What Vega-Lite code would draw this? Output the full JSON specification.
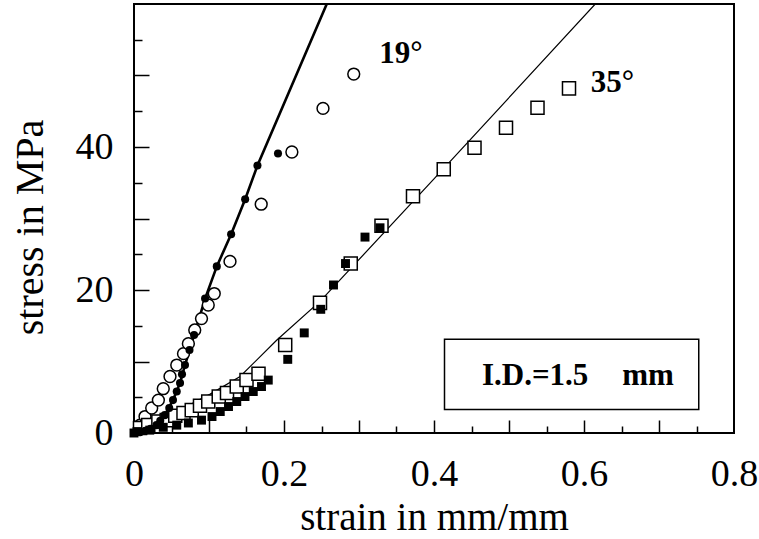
{
  "$schema": "https://vega.github.io/schema/vega-lite/v6.json",
  "width": 600,
  "height": 429,
  "autosize": {"type": "none"},
  "padding": {"left": 134, "top": 4, "right": 25, "bottom": 106},
  "background": "white",
  "config": {
    "view": {"stroke": "#000", "strokeWidth": 2},
    "font": "Liberation Serif",
    "axis": {
      "labelFont": "Liberation Serif",
      "titleFont": "Liberation Serif",
      "labelColor": "#000",
      "titleColor": "#000",
      "tickColor": "#000",
      "domain": false,
      "grid": false,
      "titleFontWeight": "normal",
      "labelFlush": false,
      "labelOverlap": false
    }
  },
  "datasets": {
    "points": [
      {"set": "f19", "strain": 0.0, "stress": 0.0},
      {"set": "f19", "strain": 0.008, "stress": 0.1},
      {"set": "f19", "strain": 0.015, "stress": 0.3},
      {"set": "f19", "strain": 0.022, "stress": 0.6},
      {"set": "f19", "strain": 0.030, "stress": 1.1},
      {"set": "f19", "strain": 0.035, "stress": 1.7},
      {"set": "f19", "strain": 0.041, "stress": 2.5},
      {"set": "f19", "strain": 0.047, "stress": 3.5},
      {"set": "f19", "strain": 0.052, "stress": 4.6},
      {"set": "f19", "strain": 0.057, "stress": 5.8},
      {"set": "f19", "strain": 0.0614, "stress": 7.0},
      {"set": "f19", "strain": 0.064, "stress": 8.2},
      {"set": "f19", "strain": 0.068, "stress": 9.5},
      {"set": "f19", "strain": 0.074, "stress": 11.6},
      {"set": "f19", "strain": 0.0801, "stress": 13.7},
      {"set": "f19", "strain": 0.0948, "stress": 18.8},
      {"set": "f19", "strain": 0.1104, "stress": 23.3},
      {"set": "f19", "strain": 0.1295, "stress": 27.8},
      {"set": "f19", "strain": 0.1482, "stress": 32.7},
      {"set": "f19", "strain": 0.1646, "stress": 37.4},
      {"set": "f19", "strain": 0.192, "stress": 39.1},
      {"set": "o19", "strain": 0.008, "stress": 1.1},
      {"set": "o19", "strain": 0.0147, "stress": 2.3},
      {"set": "o19", "strain": 0.0236, "stress": 3.5},
      {"set": "o19", "strain": 0.0325, "stress": 4.6},
      {"set": "o19", "strain": 0.039, "stress": 6.2},
      {"set": "o19", "strain": 0.048, "stress": 7.9},
      {"set": "o19", "strain": 0.057, "stress": 9.5},
      {"set": "o19", "strain": 0.066, "stress": 11.1},
      {"set": "o19", "strain": 0.0725, "stress": 12.5},
      {"set": "o19", "strain": 0.081, "stress": 14.4},
      {"set": "o19", "strain": 0.090, "stress": 16.0},
      {"set": "o19", "strain": 0.099, "stress": 17.9},
      {"set": "o19", "strain": 0.107, "stress": 19.5},
      {"set": "o19", "strain": 0.128, "stress": 24.0},
      {"set": "o19", "strain": 0.1696, "stress": 32.0},
      {"set": "o19", "strain": 0.2105, "stress": 39.3},
      {"set": "o19", "strain": 0.252, "stress": 45.4},
      {"set": "o19", "strain": 0.293, "stress": 50.2},
      {"set": "f35", "strain": 0.0, "stress": 0.0},
      {"set": "f35", "strain": 0.004, "stress": 0.2},
      {"set": "f35", "strain": 0.021, "stress": 0.4},
      {"set": "f35", "strain": 0.039, "stress": 0.8},
      {"set": "f35", "strain": 0.057, "stress": 1.1},
      {"set": "f35", "strain": 0.0725, "stress": 1.4},
      {"set": "f35", "strain": 0.090, "stress": 1.8},
      {"set": "f35", "strain": 0.104, "stress": 2.3},
      {"set": "f35", "strain": 0.115, "stress": 3.0},
      {"set": "f35", "strain": 0.126, "stress": 3.7},
      {"set": "f35", "strain": 0.137, "stress": 4.4},
      {"set": "f35", "strain": 0.148, "stress": 5.1},
      {"set": "f35", "strain": 0.159, "stress": 5.8},
      {"set": "f35", "strain": 0.170, "stress": 6.5},
      {"set": "f35", "strain": 0.179, "stress": 7.4},
      {"set": "f35", "strain": 0.205, "stress": 10.3},
      {"set": "f35", "strain": 0.227, "stress": 14.0},
      {"set": "f35", "strain": 0.249, "stress": 17.3},
      {"set": "f35", "strain": 0.266, "stress": 20.7},
      {"set": "f35", "strain": 0.282, "stress": 23.7},
      {"set": "f35", "strain": 0.308, "stress": 27.4},
      {"set": "f35", "strain": 0.328, "stress": 28.7},
      {"set": "o35", "strain": 0.008, "stress": 0.7},
      {"set": "o35", "strain": 0.019, "stress": 1.1},
      {"set": "o35", "strain": 0.0325, "stress": 1.6},
      {"set": "o35", "strain": 0.0436, "stress": 1.8},
      {"set": "o35", "strain": 0.055, "stress": 2.4},
      {"set": "o35", "strain": 0.066, "stress": 2.8},
      {"set": "o35", "strain": 0.077, "stress": 3.2},
      {"set": "o35", "strain": 0.088, "stress": 3.8},
      {"set": "o35", "strain": 0.099, "stress": 4.4},
      {"set": "o35", "strain": 0.113, "stress": 5.1},
      {"set": "o35", "strain": 0.124, "stress": 5.6},
      {"set": "o35", "strain": 0.137, "stress": 6.5},
      {"set": "o35", "strain": 0.150, "stress": 7.4},
      {"set": "o35", "strain": 0.166, "stress": 8.3},
      {"set": "o35", "strain": 0.2016, "stress": 12.3},
      {"set": "o35", "strain": 0.248, "stress": 18.2},
      {"set": "o35", "strain": 0.289, "stress": 23.7},
      {"set": "o35", "strain": 0.330, "stress": 29.0},
      {"set": "o35", "strain": 0.372, "stress": 33.1},
      {"set": "o35", "strain": 0.413, "stress": 36.9},
      {"set": "o35", "strain": 0.454, "stress": 39.9},
      {"set": "o35", "strain": 0.496, "stress": 42.7},
      {"set": "o35", "strain": 0.538, "stress": 45.5},
      {"set": "o35", "strain": 0.580, "stress": 48.2}
    ],
    "fit19": [
      {"strain": 0.0, "stress": 0.0},
      {"strain": 0.015, "stress": 0.3},
      {"strain": 0.030, "stress": 1.1},
      {"strain": 0.041, "stress": 2.5},
      {"strain": 0.052, "stress": 4.6},
      {"strain": 0.0614, "stress": 7.0},
      {"strain": 0.068, "stress": 9.5},
      {"strain": 0.0801, "stress": 13.7},
      {"strain": 0.0948, "stress": 18.8},
      {"strain": 0.1104, "stress": 23.3},
      {"strain": 0.1295, "stress": 27.8},
      {"strain": 0.1482, "stress": 32.7},
      {"strain": 0.1646, "stress": 37.4},
      {"strain": 0.257, "stress": 60.0}
    ],
    "fit35": [
      {"strain": 0.0, "stress": 0.0},
      {"strain": 0.021, "stress": 1.3},
      {"strain": 0.057, "stress": 3.0},
      {"strain": 0.101, "stress": 5.4},
      {"strain": 0.1415, "stress": 7.9},
      {"strain": 0.1905, "stress": 13.0},
      {"strain": 0.248, "stress": 18.4},
      {"strain": 0.413, "stress": 37.0},
      {"strain": 0.615, "stress": 60.0}
    ]
  },
  "layer": [
    {
      "data": {"name": "fit19"},
      "mark": {"type": "line", "color": "#000", "strokeWidth": 2.6, "clip": true},
      "encoding": {
        "x": {
          "field": "strain", "type": "quantitative",
          "scale": {"domain": [0, 0.8], "nice": false, "zero": false},
          "axis": {
            "orient": "bottom",
            "values": [0, 0.2, 0.4, 0.6, 0.8],
            "format": ".1~f",
            "ticks": false,
            "labelFontSize": 38,
            "labelBaseline": "alphabetic",
            "labelPadding": 52,
            "title": "strain in mm/mm",
            "titleFontSize": 39,
            "titleBaseline": "alphabetic",
            "titleY": 96
          }
        },
        "y": {
          "field": "stress", "type": "quantitative",
          "scale": {"domain": [0, 60], "nice": false, "zero": false},
          "axis": {
            "orient": "left",
            "values": [0, 20, 40],
            "format": "d",
            "ticks": false,
            "labelFontSize": 38,
            "labelBaseline": "middle",
            "labelPadding": 21,
            "title": "stress in MPa",
            "titleFontSize": 40,
            "titleBaseline": "alphabetic",
            "titleX": -92,
            "titleY": 223
          }
        }
      }
    },
    {
      "data": {"name": "fit35"},
      "mark": {"type": "line", "color": "#000", "strokeWidth": 1.2, "clip": true},
      "encoding": {
        "x": {
          "field": "strain", "type": "quantitative",
          "axis": {
            "orient": "bottom",
            "values": [0.1, 0.2, 0.3, 0.4, 0.5, 0.6, 0.7],
            "labels": false,
            "tickSize": -13,
            "tickWidth": 1.5,
            "title": null
          }
        },
        "y": {
          "field": "stress", "type": "quantitative",
          "axis": {
            "orient": "left",
            "values": [10, 20, 30, 40, 50],
            "labels": false,
            "tickSize": -15,
            "tickWidth": 1.5,
            "title": null
          }
        }
      }
    },
    {
      "data": {"name": "points"},
      "transform": [{"filter": "datum.set === 'o19'"}],
      "mark": {"type": "point", "shape": "circle", "size": 140, "filled": true, "fill": "#fff", "stroke": "#000", "strokeWidth": 1.5, "opacity": 1},
      "encoding": {
        "x": {
          "field": "strain", "type": "quantitative",
          "axis": {
            "orient": "bottom",
            "values": [0.05, 0.15, 0.25, 0.35, 0.45, 0.55, 0.65, 0.75],
            "labels": false,
            "tickSize": -7,
            "tickWidth": 1.5,
            "title": null
          }
        },
        "y": {
          "field": "stress", "type": "quantitative",
          "axis": {
            "orient": "left",
            "values": [5, 15, 25, 35, 45, 55],
            "labels": false,
            "tickSize": -8,
            "tickWidth": 1.5,
            "title": null
          }
        }
      }
    },
    {
      "data": {"name": "points"},
      "transform": [{"filter": "datum.set === 'o35'"}],
      "mark": {"type": "point", "shape": "square", "size": 170, "filled": true, "fill": "#fff", "stroke": "#000", "strokeWidth": 1.5, "opacity": 1},
      "encoding": {
        "x": {"field": "strain", "type": "quantitative", "axis": null},
        "y": {"field": "stress", "type": "quantitative", "axis": null}
      }
    },
    {
      "data": {"name": "points"},
      "transform": [{"filter": "datum.set === 'f19'"}],
      "mark": {"type": "point", "shape": "circle", "size": 65, "filled": true, "fill": "#000", "strokeWidth": 0, "opacity": 1},
      "encoding": {
        "x": {"field": "strain", "type": "quantitative", "axis": null},
        "y": {"field": "stress", "type": "quantitative", "axis": null}
      }
    },
    {
      "data": {"name": "points"},
      "transform": [{"filter": "datum.set === 'f35'"}],
      "mark": {"type": "point", "shape": "square", "size": 80, "filled": true, "fill": "#000", "strokeWidth": 0, "opacity": 1},
      "encoding": {
        "x": {"field": "strain", "type": "quantitative", "axis": null},
        "y": {"field": "stress", "type": "quantitative", "axis": null}
      }
    },
    {
      "data": {"values": [{}]},
      "mark": {"type": "rect", "fill": "#fff", "stroke": "#000", "strokeWidth": 1.5},
      "encoding": {
        "x": {"datum": 0.414, "type": "quantitative", "axis": null},
        "x2": {"datum": 0.753},
        "y": {"datum": 3.3, "type": "quantitative", "axis": null},
        "y2": {"datum": 13.1}
      }
    },
    {
      "data": {"values": [{}]},
      "mark": {"type": "text", "text": "I.D.=1.5", "font": "Liberation Serif", "fontWeight": "bold", "fontSize": 31, "align": "left", "baseline": "alphabetic", "color": "#000"},
      "encoding": {
        "x": {"datum": 0.464, "type": "quantitative", "axis": null},
        "y": {"datum": 6.7, "type": "quantitative", "axis": null}
      }
    },
    {
      "data": {"values": [{}]},
      "mark": {"type": "text", "text": "mm", "font": "Liberation Serif", "fontWeight": "bold", "fontSize": 31, "align": "left", "baseline": "alphabetic", "color": "#000"},
      "encoding": {
        "x": {"datum": 0.651, "type": "quantitative", "axis": null},
        "y": {"datum": 6.7, "type": "quantitative", "axis": null}
      }
    },
    {
      "data": {"values": [{}]},
      "mark": {"type": "text", "text": "19°", "font": "Liberation Serif", "fontWeight": "bold", "fontSize": 31, "align": "center", "baseline": "alphabetic", "color": "#000"},
      "encoding": {
        "x": {"datum": 0.356, "type": "quantitative", "axis": null},
        "y": {"datum": 51.7, "type": "quantitative", "axis": null}
      }
    },
    {
      "data": {"values": [{}]},
      "mark": {"type": "text", "text": "35°", "font": "Liberation Serif", "fontWeight": "bold", "fontSize": 31, "align": "center", "baseline": "alphabetic", "color": "#000"},
      "encoding": {
        "x": {"datum": 0.638, "type": "quantitative", "axis": null},
        "y": {"datum": 47.7, "type": "quantitative", "axis": null}
      }
    }
  ],
  "resolve": {"axis": {"x": "independent", "y": "independent"}}
}
